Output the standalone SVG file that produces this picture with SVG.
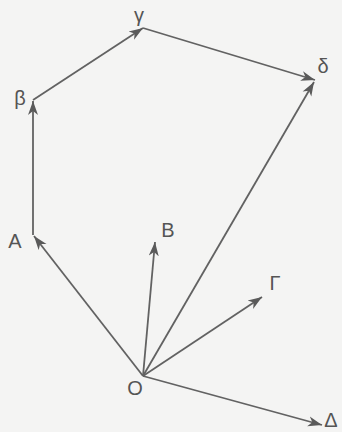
<svg xmlns="http://www.w3.org/2000/svg" width="342" height="432" viewBox="0 0 342 432">
<style>
.bg{fill:#f4f4f3}
.v{stroke:#626262;stroke-width:1.8;fill:none;marker-end:url(#ah)}
.lbl{font-family:"Liberation Sans","DejaVu Sans",Arial,sans-serif;font-size:20px;fill:#555;text-anchor:middle}
.sm{font-size:20px}
</style>
<defs>
<marker id="ah" markerUnits="userSpaceOnUse" markerWidth="16" markerHeight="12" refX="14" refY="6" orient="auto">
<path d="M0,1 L14,6 L0,11 L4,6 z" fill="#5a5a5a"/>
</marker>
</defs>
<rect class="bg" x="0" y="0" width="342" height="432"/>
<g id="connectors">
<line class="v" x1="143" y1="376" x2="34" y2="236"/>
<line class="v" x1="33" y1="235" x2="33" y2="101"/>
<line class="v" x1="33" y1="100" x2="143" y2="28"/>
<line class="v" x1="143" y1="28" x2="315" y2="80"/>
<line class="v" x1="143" y1="376" x2="314" y2="82"/>
<line class="v" x1="143" y1="376" x2="155" y2="242"/>
<line class="v" x1="143" y1="376" x2="262" y2="297"/>
<line class="v" x1="143" y1="376" x2="322" y2="425"/>
</g>
<g id="node-O"><text class="lbl" x="135" y="395">O</text></g>
<g id="node-A"><text class="lbl" x="15" y="248">A</text></g>
<g id="node-B"><text class="lbl" x="168" y="237">B</text></g>
<g id="node-Gamma"><text class="lbl" x="275" y="290">Γ</text></g>
<g id="node-Delta"><text class="lbl" x="331" y="427">Δ</text></g>
<g id="node-beta"><text class="lbl sm" x="20" y="105">β</text></g>
<g id="node-gamma"><text class="lbl" x="139" y="22">γ</text></g>
<g id="node-delta"><text class="lbl sm" x="323" y="73">δ</text></g>
</svg>
